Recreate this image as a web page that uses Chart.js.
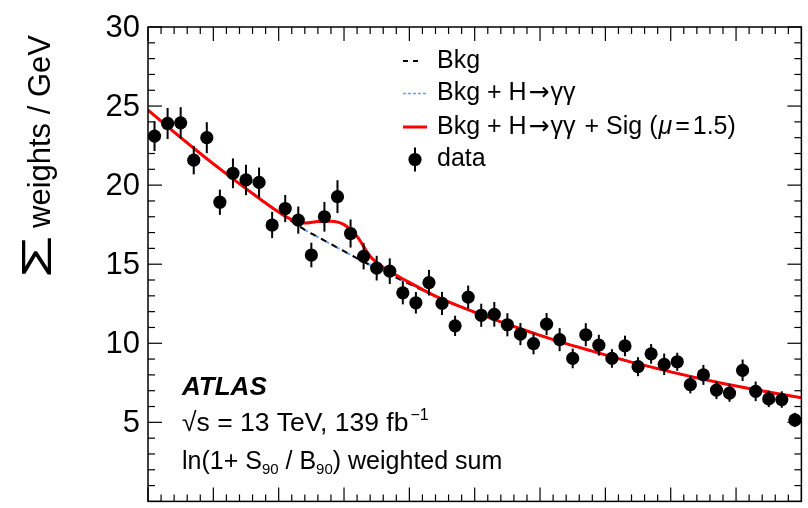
<!DOCTYPE html>
<html>
<head>
<meta charset="utf-8">
<title>Weighted diphoton fit</title>
<script src="https://cdn.jsdelivr.net/npm/chart.js@4.4.1/dist/chart.umd.min.js"></script>
<style>
  html, body { margin: 0; padding: 0; background: #fff; }
  #wrap { width: 808px; height: 508px; }
</style>
</head>
<body>
<div id="wrap"><canvas id="fit" width="808" height="508"></canvas></div>
<script>
// weighted events per bin (50 bins)
const weights = [23.1, 23.9, 23.94, 21.58, 23.0, 18.92, 20.75, 20.33, 20.17, 17.48,
                 18.52, 17.79, 15.58, 18.0, 19.27, 16.94, 15.5, 14.75, 14.56, 13.19,
                 12.56, 13.83, 12.52, 11.1, 12.92, 11.77, 11.83, 11.17, 10.58, 9.98,
                 11.21, 10.23, 9.04, 10.54, 9.88, 9.04, 9.83, 8.52, 9.33, 8.67,
                 8.83, 7.38, 8.0, 7.04, 6.85, 8.29, 6.96, 6.48, 6.44, 5.15];
const errors = [0.94, 0.98, 0.99, 0.90, 0.98, 0.80, 0.94, 0.96, 0.94, 0.83,
                0.86, 0.86, 0.78, 0.94, 1.04, 0.89, 0.83, 0.78, 0.81, 0.73,
                0.68, 0.81, 0.73, 0.64, 0.73, 0.73, 0.78, 0.73, 0.70, 0.68,
                0.70, 0.73, 0.62, 0.73, 0.66, 0.59, 0.65, 0.60, 0.62, 0.68,
                0.57, 0.55, 0.63, 0.57, 0.55, 0.68, 0.62, 0.52, 0.52, 0.45];

// fit curves, sampled in bin units
const curveX = [0, 2, 4, 6, 8, 10, 11, 12, 13, 14, 15, 16, 17, 18, 19, 20,
                22, 24, 26, 28, 30, 32, 34, 36, 38, 40, 42, 44, 46, 48, 50];
const bkg = [24.75, 23.35, 22.00, 20.71, 19.47, 18.28, 17.72, 17.17, 16.72, 16.27, 15.82,
             15.37, 14.95, 14.55, 14.15, 13.75, 12.98, 12.28, 11.65, 11.06, 10.50,
             9.98, 9.50, 9.03, 8.60, 8.19, 7.81, 7.46, 7.14, 6.84, 6.56];
// H->yy contribution is negligible here, same numbers as bkg
const bkgH = bkg;
const bkgSig = [24.75, 23.35, 22.00, 20.71, 19.47, 18.30, 17.82, 17.60, 17.70, 17.72, 17.50,
                16.75, 15.50, 14.80, 14.30, 13.85, 12.98, 12.28, 11.65, 11.06, 10.50,
                9.98, 9.50, 9.03, 8.60, 8.19, 7.81, 7.46, 7.14, 6.84, 6.56];

const yTicks = [5, 10, 15, 20, 25, 30];

const pts = (xs, ys) => xs.map((x, i) => ({ x: x, y: ys[i] }));
const FONT = '"Liberation Sans", Arial, sans-serif';

function line(ctx, x1, y1, x2, y2) {
  ctx.beginPath();
  ctx.moveTo(x1, y1);
  ctx.lineTo(x2, y2);
  ctx.stroke();
}

// draw a row of text pieces with different fonts / offsets
function runs(ctx, parts, x, y) {
  parts.forEach(p => {
    ctx.font = p.f;
    ctx.fillText(p.t, x, y + (p.dy || 0));
    x += ctx.measureText(p.t).width + (p.gap || 0);
  });
}

const atlasFrame = {
  id: 'atlasFrame',
  afterDatasetsDraw(chart) {
    const { ctx, chartArea: a, scales: { x, y } } = chart;
    ctx.save();
    ctx.strokeStyle = '#000';
    ctx.fillStyle = '#000';

    // error bars
    ctx.lineWidth = 2;
    weights.forEach((v, i) => {
      const px = x.getPixelForValue(i + 0.5);
      line(ctx, px, y.getPixelForValue(v - errors[i]), px, y.getPixelForValue(v + errors[i]));
    });

    // frame and inward ticks
    ctx.lineWidth = 1.5;
    ctx.strokeRect(a.left, a.top, a.right - a.left, a.bottom - a.top);
    ctx.lineWidth = 1.2;
    for (let v = 0; v <= 30; v++) {
      const py = y.getPixelForValue(v);
      const len = v % 5 === 0 ? 14 : 7;
      line(ctx, a.left, py, a.left + len, py);
      line(ctx, a.right, py, a.right - len, py);
    }
    for (let v = 0; v <= 50; v++) {
      const px = x.getPixelForValue(v);
      const len = v % 5 === 0 ? 14 : 7;
      line(ctx, px, a.top, px, a.top + len);
      line(ctx, px, a.bottom, px, a.bottom - len);
    }

    // y tick labels
    ctx.font = '31px ' + FONT;
    ctx.textAlign = 'right';
    ctx.textBaseline = 'middle';
    yTicks.forEach(t => ctx.fillText(String(t), a.left - 8, y.getPixelForValue(t) + 1));

    // y axis title
    ctx.save();
    ctx.translate(50, 278);
    ctx.rotate(-Math.PI / 2);
    ctx.textAlign = 'left';
    ctx.textBaseline = 'alphabetic';
    ctx.save();
    ctx.font = '43px ' + FONT;
    ctx.scale(1.6, 1);
    ctx.fillText('\u03A3', 0, 1);
    ctx.restore();
    ctx.font = '31px ' + FONT;
    ctx.fillText('weights / GeV', 50, 0);
    ctx.restore();

    // legend
    const lx = 403, tx = 437;
    const rows = [61, 93.5, 127, 159.5];
    ctx.lineWidth = 2;
    ctx.setLineDash([5, 5]);
    line(ctx, lx, rows[0], lx + 16, rows[0]);
    ctx.strokeStyle = '#5f9ff5';
    ctx.lineWidth = 1.5;
    ctx.setLineDash([3, 2]);
    line(ctx, lx, rows[1], lx + 25, rows[1]);
    ctx.setLineDash([]);
    ctx.strokeStyle = '#ff0000';
    ctx.lineWidth = 3;
    line(ctx, lx, rows[2], lx + 24, rows[2]);
    ctx.strokeStyle = '#000';
    ctx.lineWidth = 2;
    line(ctx, lx + 12, rows[3] - 12, lx + 12, rows[3] + 12);
    ctx.beginPath();
    ctx.arc(lx + 12, rows[3], 6.6, 0, Math.PI * 2);
    ctx.fill();

    const lf = '25px ' + FONT;
    const af = '25px "DejaVu Sans", sans-serif';
    ctx.textAlign = 'left';
    ctx.textBaseline = 'middle';
    runs(ctx, [{ t: 'Bkg', f: lf }], tx, rows[0]);
    runs(ctx, [{ t: 'Bkg + H', f: lf, gap: 2 }, { t: '\u2192', f: af, gap: 1 }, { t: '\u03B3\u03B3', f: lf }], tx, rows[1]);
    runs(ctx, [{ t: 'Bkg + H', f: lf, gap: 2 }, { t: '\u2192', f: af, gap: 1 }, { t: '\u03B3\u03B3', f: lf, gap: 2 },
               { t: ' + Sig (', f: lf, gap: 1 }, { t: '\u03BC', f: 'italic ' + lf, gap: 3 }, { t: '=', f: lf, gap: 3 },
               { t: '1.5)', f: lf }], tx, rows[2]);
    runs(ctx, [{ t: 'data', f: lf }], tx, rows[3]);

    // experiment label
    const bx = 182;
    ctx.textBaseline = 'alphabetic';
    ctx.font = 'italic bold 26px ' + FONT;
    ctx.fillText('ATLAS', bx, 395);
    const sf = '26.5px ' + FONT, sup = '16px ' + FONT;
    runs(ctx, [{ t: '\u221As = 13 TeV, 139 fb', f: sf, gap: 2 }, { t: '\u22121', f: sup, dy: -11 }], bx, 431);
    const lnf = '25px ' + FONT, sub = '15px ' + FONT;
    runs(ctx, [{ t: 'ln(1+ S', f: lnf }, { t: '90', f: sub, dy: 5 }, { t: ' / B', f: lnf },
               { t: '90', f: sub, dy: 5 }, { t: ') weighted sum', f: lnf }], bx, 469);
    ctx.restore();
  }
};

new Chart(document.getElementById('fit'), {
  type: 'scatter',
  data: {
    datasets: [
      {
        label: 'data',
        data: weights.map((v, i) => ({ x: i + 0.5, y: v })),
        pointRadius: 6.6,
        pointBorderWidth: 0,
        pointBackgroundColor: '#000',
        showLine: false
      },
      {
        label: 'Bkg + H\u2192\u03B3\u03B3 + Sig (\u03BC=1.5)',
        data: pts(curveX, bkgSig),
        showLine: true,
        pointRadius: 0,
        borderColor: '#ff0000',
        borderWidth: 3,
        cubicInterpolationMode: 'monotone'
      },
      {
        label: 'Bkg',
        data: pts(curveX, bkg),
        showLine: true,
        pointRadius: 0,
        borderColor: '#000',
        borderWidth: 2,
        borderDash: [6, 6],
        cubicInterpolationMode: 'monotone'
      },
      {
        label: 'Bkg + H\u2192\u03B3\u03B3',
        data: pts(curveX, bkgH),
        showLine: true,
        pointRadius: 0,
        borderColor: '#5f9ff5',
        borderWidth: 2,
        borderDash: [3, 3],
        cubicInterpolationMode: 'monotone'
      }
    ]
  },
  options: {
    responsive: false,
    animation: false,
    layout: { padding: { left: 148, top: 27, right: 1, bottom: 1 } },
    plugins: { legend: { display: false }, tooltip: { enabled: false } },
    scales: {
      x: { type: 'linear', min: 0, max: 50, display: false },
      y: { type: 'linear', min: 0, max: 30, display: false }
    }
  },
  plugins: [atlasFrame]
});
</script>
</body>
</html>
